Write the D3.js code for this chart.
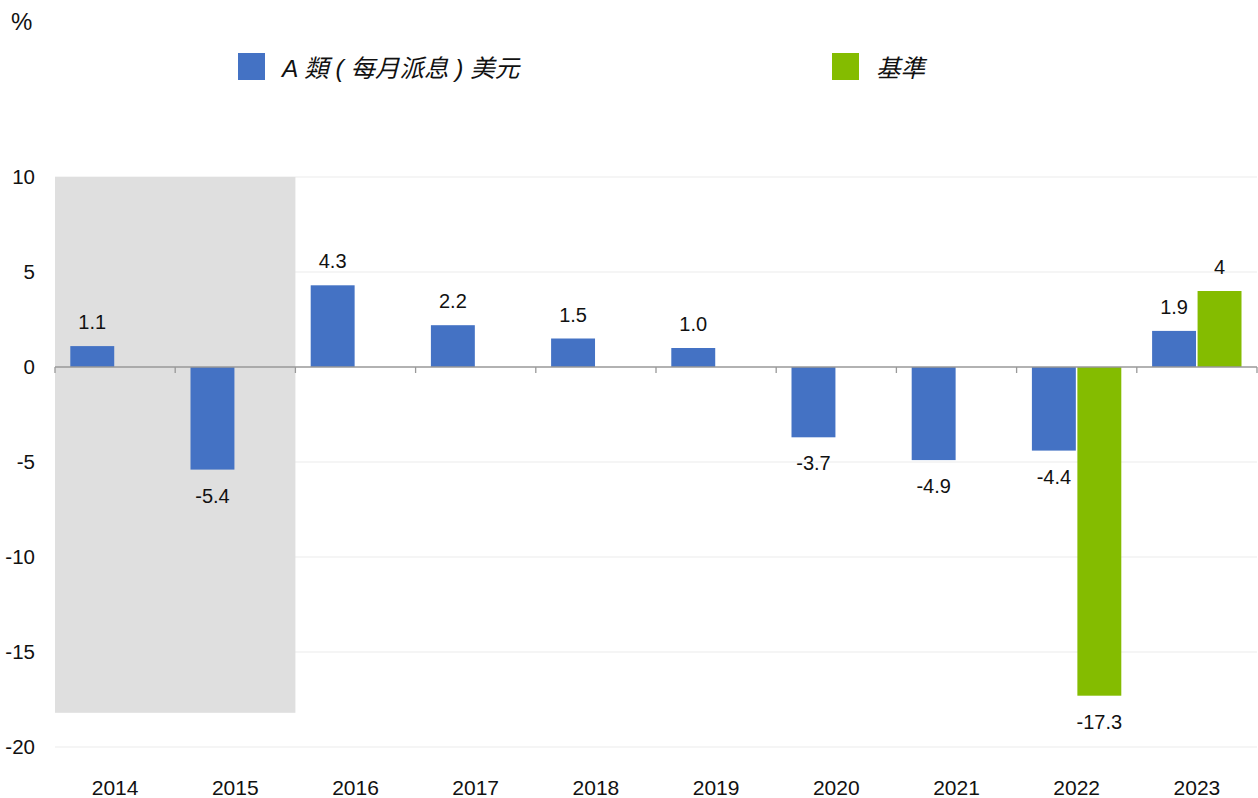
<!DOCTYPE html>
<html>
<head>
<meta charset="utf-8">
<style>
  body { margin: 0; background: #fff; }
  text { font-family: "Liberation Sans", Arial, "Noto Sans CJK TC", sans-serif; fill: #111; }
</style>
</head>
<body>
<script src="https://cdn.jsdelivr.net/npm/d3@7"></script>
<script>
// chart values
var years = ["2014", "2015", "2016", "2017", "2018", "2019", "2020", "2021", "2022", "2023"];
var classA = [1.1, -5.4, 4.3, 2.2, 1.5, 1.0, -3.7, -4.9, -4.4, 1.9];
var benchmark = [null, null, null, null, null, null, null, null, -17.3, 4];
var seriesNames = ["A 類 ( 每月派息 ) 美元", "基準"];
var yTicks = [10, 5, 0, -5, -10, -15, -20];
var shadedYears = ["2014", "2015"];
var shadedRange = [-18.2, 10];

var width = 1258, height = 798;
var plotLeft = 55, plotRight = 1257, plotTop = 177, plotBottom = 747;
var colors = ["#4472c4", "#84bc00"];

var svg = d3.select("body").append("svg")
    .attr("width", width)
    .attr("height", height);

var x = d3.scaleBand().domain(years).range([plotLeft, plotRight]);
var y = d3.scaleLinear().domain([-20, 10]).range([plotBottom, plotTop]);

// bar slots inside each band
var inner = d3.scaleBand().domain([0, 1]).range([15.3, x.bandwidth() - 15.5]).paddingInner(0.034);

// grid lines
svg.append("g").selectAll("line")
    .data(yTicks.filter(function (t) { return t !== 0; }))
    .join("line")
    .attr("x1", plotLeft).attr("x2", plotRight)
    .attr("y1", function (d) { return y(d); })
    .attr("y2", function (d) { return y(d); })
    .attr("stroke", "#ebebeb")
    .attr("stroke-width", 1);

// shaded period
svg.append("rect")
    .attr("x", x(shadedYears[0]))
    .attr("width", x(shadedYears[shadedYears.length - 1]) + x.bandwidth() - x(shadedYears[0]))
    .attr("y", y(shadedRange[1]))
    .attr("height", y(shadedRange[0]) - y(shadedRange[1]))
    .attr("fill", "#dfdfdf");

// y axis labels
svg.append("g").selectAll("text")
    .data(yTicks)
    .join("text")
    .attr("x", 35)
    .attr("y", function (d) { return y(d); })
    .attr("dy", "0.35em")
    .attr("text-anchor", "end")
    .attr("font-size", 20.5)
    .text(function (d) { return d; });

svg.append("text")
    .attr("x", 11).attr("y", 30)
    .attr("font-size", 24)
    .text("%");

// bars
var series = [classA, benchmark];
series.forEach(function (vals, s) {
    var g = svg.append("g");
    var pts = years.map(function (yr, i) { return { year: yr, v: vals[i] }; })
        .filter(function (d) { return d.v !== null; });

    g.selectAll("rect")
        .data(pts)
        .join("rect")
        .attr("x", function (d) { return x(d.year) + inner(s); })
        .attr("width", inner.bandwidth())
        .attr("y", function (d) { return y(Math.max(0, d.v)); })
        .attr("height", function (d) { return Math.abs(y(d.v) - y(0)); })
        .attr("fill", colors[s]);

    g.selectAll("text")
        .data(pts)
        .join("text")
        .attr("x", function (d) { return x(d.year) + inner(s) + inner.bandwidth() / 2; })
        .attr("y", function (d) { return d.v >= 0 ? y(d.v) - 24 : y(d.v) + 26; })
        .attr("dy", "0.35em")
        .attr("text-anchor", "middle")
        .attr("font-size", 20)
        .text(function (d) { return s === 0 ? d.v.toFixed(1) : String(d.v); });
});

// zero line with ticks
var xAxis = svg.append("g");
xAxis.append("line")
    .attr("x1", plotLeft).attr("x2", plotRight)
    .attr("y1", y(0)).attr("y2", y(0))
    .attr("stroke", "#999").attr("stroke-width", 1.3);
xAxis.selectAll("line.tick")
    .data(years.map(function (d) { return x(d); }).concat([plotRight]))
    .join("line")
    .attr("class", "tick")
    .attr("x1", function (d) { return d; }).attr("x2", function (d) { return d; })
    .attr("y1", y(0)).attr("y2", y(0) + 6)
    .attr("stroke", "#999").attr("stroke-width", 1.3);

// category labels
svg.append("g").selectAll("text")
    .data(years)
    .join("text")
    .attr("x", function (d) { return x(d) + x.bandwidth() / 2; })
    .attr("y", 788)
    .attr("dy", "0.35em")
    .attr("text-anchor", "middle")
    .attr("font-size", 21)
    .text(function (d) { return d; });

// legend
var legendX = [238, 832];
var legend = svg.append("g").selectAll("g")
    .data(seriesNames)
    .join("g")
    .attr("transform", function (d, i) { return "translate(" + legendX[i] + ",53)"; });
legend.append("rect")
    .attr("width", 27).attr("height", 27)
    .attr("fill", function (d, i) { return colors[i]; });
legend.append("text")
    .attr("x", 44).attr("y", 15)
    .attr("dy", "0.35em")
    .attr("font-size", 24.5)
    .attr("font-style", "italic")
    .style("font-family", "'Liberation Sans', 'Noto Sans CJK TC', sans-serif")
    .text(function (d) { return d; });
</script>
</body>
</html>
